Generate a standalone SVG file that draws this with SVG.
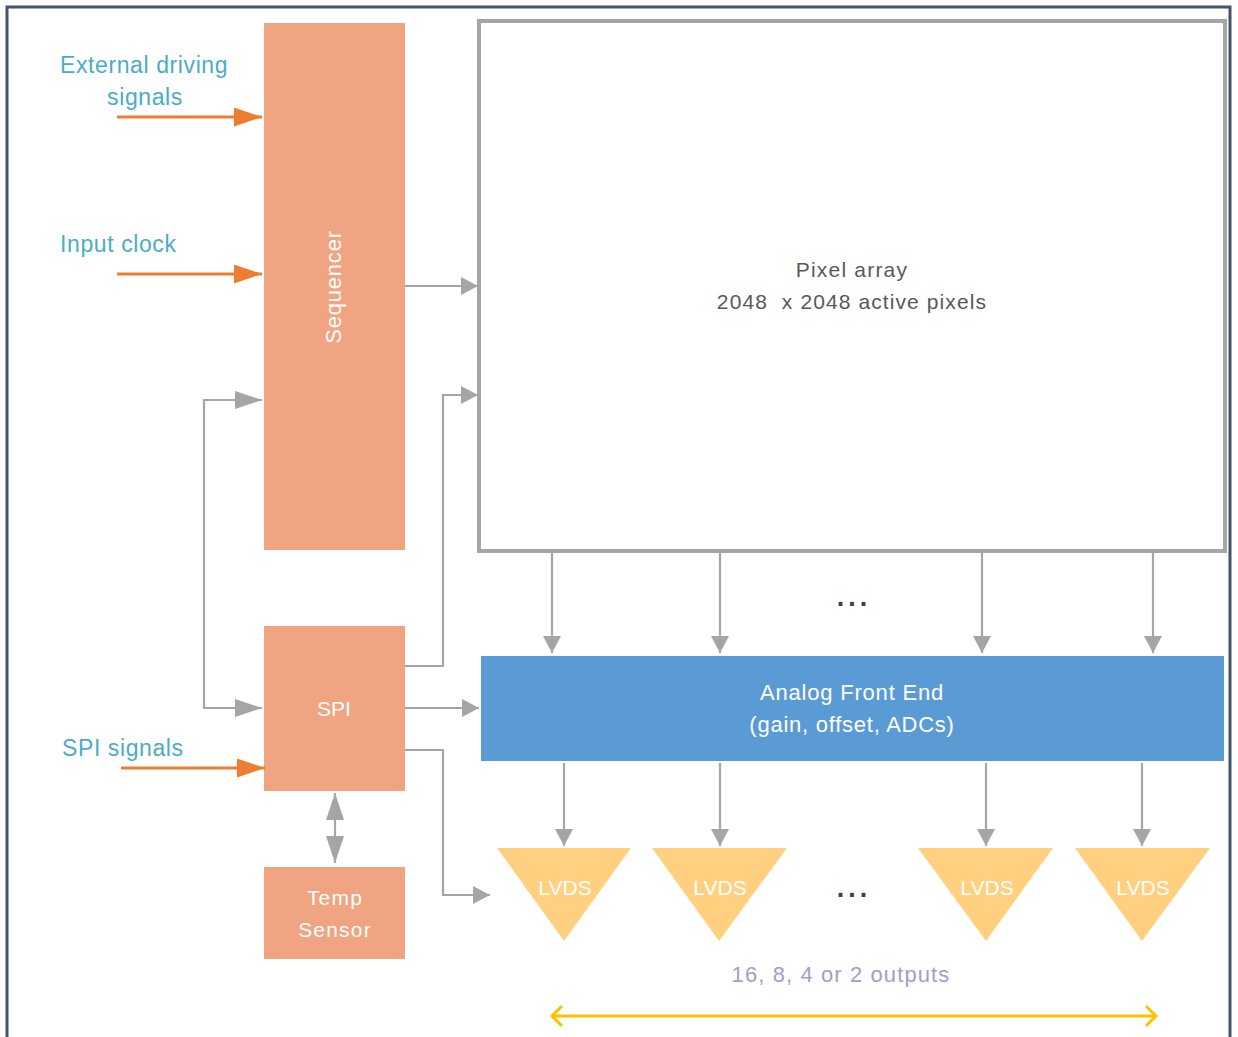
<svg xmlns="http://www.w3.org/2000/svg" width="1238" height="1037" viewBox="0 0 1238 1037">
<style>
text{font-family:"Liberation Sans",Arial,sans-serif}
.blk{fill:#F0A482}
.wt{fill:#FFFFFF;text-anchor:middle}
.lbl{fill:#4BACC6;font-size:23px;letter-spacing:0.6px}
.gc{fill:none;stroke:#A5A5A5;stroke-width:2.2}
.oc{fill:none;stroke:#ED7D31;stroke-width:3}
.dots{fill:#404040;font-size:27px;font-weight:bold;text-anchor:middle;letter-spacing:4px}
.lv{fill:#FFD07F}
</style>
<defs>
<marker id="ag" markerUnits="userSpaceOnUse" markerWidth="17" markerHeight="18" refX="17" refY="9" orient="auto-start-reverse"><path d="M0,0 L17,9 L0,18 z" fill="#A5A5A5"/></marker>
<marker id="agL" markerUnits="userSpaceOnUse" markerWidth="27" markerHeight="18" refX="27" refY="9" orient="auto-start-reverse"><path d="M0,0 L27,9 L0,18 z" fill="#A5A5A5"/></marker>
<marker id="ao" markerUnits="userSpaceOnUse" markerWidth="28" markerHeight="19" refX="28" refY="9.5" orient="auto"><path d="M0,0 L28,9.5 L0,19 z" fill="#ED7D31"/></marker>
<marker id="ay" markerUnits="userSpaceOnUse" markerWidth="16" markerHeight="26" refX="12" refY="13" orient="auto-start-reverse" overflow="visible"><path d="M2,3 L12,13 L2,23" fill="none" stroke="#FFC000" stroke-width="3"/></marker>
</defs>
<rect id="frame" x="7" y="7" width="1223" height="1045" fill="none" stroke="#44546A" stroke-width="3"/>

<g id="pixel-array">
<rect x="479" y="21" width="746" height="530" fill="#FFFFFF" stroke="#A5A5A5" stroke-width="4"/>
<text x="852" y="277" text-anchor="middle" fill="#595959" font-size="21" letter-spacing="1.2">Pixel array</text>
<text x="852" y="309" text-anchor="middle" fill="#595959" font-size="21" letter-spacing="1.1" xml:space="preserve">2048  x 2048 active pixels</text>
</g>

<g id="sequencer">
<rect class="blk" x="264" y="23" width="141" height="527"/>
<text class="wt" transform="translate(341,287) rotate(-90)" font-size="22" letter-spacing="0.8">Sequencer</text>
</g>

<g id="spi">
<rect class="blk" x="264" y="626" width="141" height="165"/>
<text class="wt" x="334" y="716" font-size="21">SPI</text>
</g>

<g id="temp-sensor">
<rect class="blk" x="264" y="867" width="141" height="92"/>
<text class="wt" x="335" y="905" font-size="21" letter-spacing="1.2">Temp</text>
<text class="wt" x="335" y="937" font-size="21" letter-spacing="1.2">Sensor</text>
</g>

<g id="afe">
<rect x="481" y="656" width="743" height="105" fill="#5B9BD5"/>
<text class="wt" x="852" y="700" font-size="22" letter-spacing="0.8">Analog Front End</text>
<text class="wt" x="852" y="732" font-size="22" letter-spacing="0.75">(gain, offset, ADCs)</text>
</g>

<g id="lvds-1"><path class="lv" d="M497,848 H631 L564,941 z"/><text class="wt" x="565" y="895" font-size="21">LVDS</text></g>
<g id="lvds-2"><path class="lv" d="M652,848 H787 L719,941 z"/><text class="wt" x="720" y="895" font-size="21">LVDS</text></g>
<g id="lvds-3"><path class="lv" d="M918,848 H1053 L986,941 z"/><text class="wt" x="987" y="895" font-size="21">LVDS</text></g>
<g id="lvds-4"><path class="lv" d="M1075,848 H1210 L1142,941 z"/><text class="wt" x="1143" y="895" font-size="21">LVDS</text></g>

<g id="labels">
<text class="lbl" x="60" y="73">External driving</text>
<text class="lbl" x="145" y="105" text-anchor="middle">signals</text>
<text class="lbl" x="60" y="252">Input clock</text>
<text class="lbl" x="62" y="756" font-size="22" letter-spacing="0">SPI signals</text>
<text class="dots" x="854" y="606">...</text>
<text class="dots" x="854" y="897">...</text>
<text x="841" y="982" text-anchor="middle" fill="#A99BC9" font-size="22" letter-spacing="1.1">16, 8, 4 or 2 outputs</text>
</g>

<g id="connectors">
<path class="oc" d="M117,117 H262" marker-end="url(#ao)"/>
<path class="oc" d="M117,274 H262" marker-end="url(#ao)"/>
<path class="oc" d="M121,768 H265" marker-end="url(#ao)"/>
<path class="gc" d="M405,286 H478" marker-end="url(#ag)"/>
<path class="gc" d="M262,400 H204 V708 H262" marker-start="url(#agL)" marker-end="url(#agL)"/>
<path class="gc" d="M405,666 H443 V395 H478" marker-end="url(#ag)"/>
<path class="gc" d="M405,708 H479" marker-end="url(#ag)"/>
<path class="gc" d="M405,750 H443 V895 H490" marker-end="url(#ag)"/>
<path class="gc" d="M335,793 V863" marker-start="url(#agL)" marker-end="url(#agL)"/>
<path class="gc" d="M552,553 V653" marker-end="url(#ag)"/>
<path class="gc" d="M720,553 V653" marker-end="url(#ag)"/>
<path class="gc" d="M982,553 V653" marker-end="url(#ag)"/>
<path class="gc" d="M1153,553 V653" marker-end="url(#ag)"/>
<path class="gc" d="M564,763 V846" marker-end="url(#ag)"/>
<path class="gc" d="M720,763 V846" marker-end="url(#ag)"/>
<path class="gc" d="M986,763 V846" marker-end="url(#ag)"/>
<path class="gc" d="M1142,763 V846" marker-end="url(#ag)"/>
<path d="M552,1016 H1156" fill="none" stroke="#FFC000" stroke-width="3" marker-start="url(#ay)" marker-end="url(#ay)"/>
</g>
</svg>
